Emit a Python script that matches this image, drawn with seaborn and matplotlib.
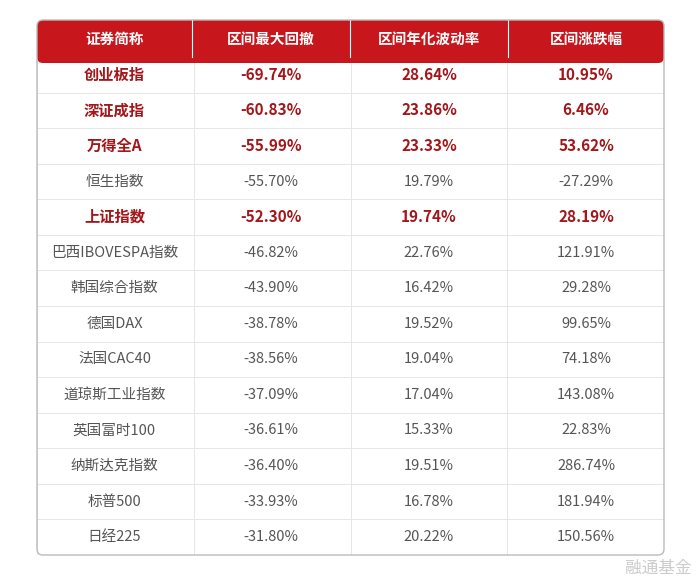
import matplotlib
matplotlib.use("Agg")
import matplotlib.pyplot as plt
from matplotlib import font_manager
import seaborn as sns
import numpy as np
import pandas as pd
from matplotlib.patches import FancyBboxPatch, Rectangle

cjk = [f for f in font_manager.fontManager.ttflist if "CJK" in f.name]
fam = None
for pref in ["Noto Sans CJK SC", "Noto Sans CJK JP"]:
    if any(f.name == pref for f in cjk):
        fam = pref; break
if fam is None and cjk:
    fam = cjk[0].name
plt.rcParams["font.family"] = [fam, "DejaVu Sans"] if fam else ["DejaVu Sans"]

headers = ["证券简称", "区间最大回撤", "区间年化波动率", "区间涨跌幅"]
names = ["创业板指", "深证成指", "万得全A", "恒生指数", "上证指数", "巴西IBOVESPA指数", "韩国综合指数",
         "德国DAX", "法国CAC40", "道琼斯工业指数", "英国富时100", "纳斯达克指数", "标普500", "日经225"]
drawdown = ["-69.74%", "-60.83%", "-55.99%", "-55.70%", "-52.30%", "-46.82%", "-43.90%",
            "-38.78%", "-38.56%", "-37.09%", "-36.61%", "-36.40%", "-33.93%", "-31.80%"]
vol = ["28.64%", "23.86%", "23.33%", "19.79%", "19.74%", "22.76%", "16.42%",
       "19.52%", "19.04%", "17.04%", "15.33%", "19.51%", "16.78%", "20.22%"]
change = ["10.95%", "6.46%", "53.62%", "-27.29%", "28.19%", "121.91%", "29.28%",
          "99.65%", "74.18%", "143.08%", "22.83%", "286.74%", "181.94%", "150.56%"]
highlight = [True, True, True, False, True] + [False] * 9

W, H = 700, 582
fig = plt.figure(figsize=(7, 5.82), dpi=100)
ax = fig.add_axes([0, 0, 1, 1])
ax.set_xlim(0, W); ax.set_ylim(H, 0); ax.axis("off")

x0, x1 = 37, 664
ytop, yhead, ybot = 20, 57, 555
cols = [37, 192, 350, 508, 664]
n = len(names)
rh = (ybot - yhead) / n

bax = fig.add_axes([x0 / W, 1 - ybot / H, (x1 - x0) / W, (ybot - yhead) / H])
df = pd.DataFrame(np.zeros((n, 4)))
sns.heatmap(df, ax=bax, cmap=["white"], cbar=False, linewidths=0.6, linecolor="#e6e6e6",
            xticklabels=False, yticklabels=False)
bax.axis("off")
red = "#c8161d"
ax.add_patch(FancyBboxPatch((x0, ytop), x1 - x0, yhead - ytop + 6, boxstyle="round,pad=0,rounding_size=6",
                            fc=red, ec="none", zorder=2))
ax.add_patch(Rectangle((x0, yhead - 2), x1 - x0, 2, fc=red, ec="none", zorder=2))
for c in cols[1:-1]:
    ax.plot([c, c], [ytop, yhead], color="white", lw=0.8, zorder=3)
for i, h in enumerate(headers):
    ax.text((cols[i] + cols[i + 1]) / 2, (ytop + yhead) / 2, h, color="white", fontsize=10.5,
            fontweight="bold", ha="center", va="center", zorder=4)
outer = FancyBboxPatch((x0, ytop), x1 - x0, ybot - ytop, boxstyle="round,pad=0,rounding_size=6",
                       fc="none", ec="#bbbbbb", lw=1, zorder=5)
ax.add_patch(outer)
ax.set_zorder(2); ax.patch.set_alpha(0)

for r in range(n):
    yc = yhead + (r + 0.5) * rh
    vals = [names[r], drawdown[r], vol[r], change[r]]
    for i, v in enumerate(vals):
        if highlight[r]:
            ax.text((cols[i] + cols[i + 1]) / 2, yc, v, color="#a3161a", fontsize=11,
                    fontweight="bold", ha="center", va="center")
        else:
            ax.text((cols[i] + cols[i + 1]) / 2, yc, v, color="#555555", fontsize=10.5,
                    ha="center", va="center")

ax.text(692, 568, "融通基金", color="#cccccc", fontsize=12, ha="right", va="center")
fig.savefig("out.png", dpi=100, facecolor="white")
